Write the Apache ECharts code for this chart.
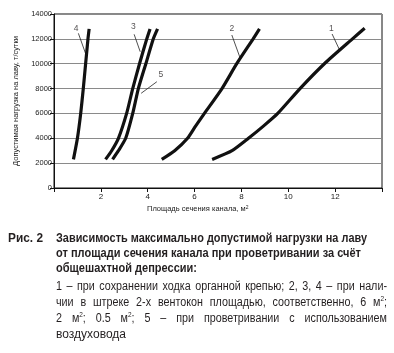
<!DOCTYPE html>
<html>
<head>
<meta charset="utf-8">
<script src="https://cdn.jsdelivr.net/npm/echarts@6/dist/echarts.min.js"></script>
<style>
  html, body { margin: 0; padding: 0; background: #fff; }
  #wrap { position: relative; width: 394px; height: 353px; overflow: hidden; }
  #echart_load { position: absolute; left: 0; top: 0; width: 394px; height: 353px; }
  .ln { position: absolute; display: inline-block; white-space: nowrap; transform-origin: 0 50%;
        font-family: "Liberation Sans", Arial, sans-serif; color: #231f20; line-height: 15px; }
  .b { font-weight: bold; font-size: 12.5px; }
  .r { font-size: 12.5px; text-align: justify; text-align-last: justify; }
  sup { font-size: 7.5px; line-height: 0; vertical-align: 5px; }
</style>
</head>
<body>
<div id="wrap">
  <div id="echart_load"></div>
  <span class="ln b" data-w="35" style="left:8px;top:231px">Рис. 2</span>
  <span class="ln b" data-w="311" style="left:56px;top:231px">Зависимость максимально допустимой нагрузки на лаву</span>
  <span class="ln b" data-w="305" style="left:56px;top:246px">от площади сечения канала при проветривании за счёт</span>
  <span class="ln b" data-w="141" style="left:56px;top:261px">общешахтной депрессии:</span>
  <span class="ln r" data-w="331" data-j="1" style="left:56px;top:279px">1 – при сохранении ходка органной крепью; 2, 3, 4 – при нали-</span>
  <span class="ln r" data-w="331" data-j="1" style="left:56px;top:295px">чии в штреке 2-х вентокон площадью, соответственно, 6 м<sup>2</sup>;</span>
  <span class="ln r" data-w="331" data-j="1" style="left:56px;top:311px">2 м<sup>2</sup>; 0.5 м<sup>2</sup>; 5 – при проветривании с использованием</span>
  <span class="ln r" data-w="70" style="left:56px;top:327px">воздуховода</span>
</div>
<script>
// кривые: [площадь сечения, м2 ; допустимая нагрузка, т/сутки]
const curve1 = [[6.75, 2300], [7.6, 3000], [8.3, 4000], [8.95, 5000], [9.55, 6000], [10.5, 8000], [11.54, 10000], [12.74, 12000], [13.26, 12850]];
const curve2 = [[4.6, 2300], [5.15, 3000], [5.7, 4000], [6.05, 5000], [6.42, 6000], [7.17, 8000], [7.8, 10000], [8.5, 12000], [8.77, 12800]];
const curve3 = [[2.2, 2300], [2.46, 3000], [2.75, 4000], [3.1, 6000], [3.36, 8000], [3.65, 10000], [3.96, 12000], [4.1, 12800]];
const curve4 = [[0.83, 2300], [1.0, 4000], [1.14, 6000], [1.25, 8000], [1.35, 10000], [1.45, 12000], [1.5, 12800]];
const curve5 = [[2.5, 2300], [2.75, 3000], [3.06, 4000], [3.36, 6000], [3.6, 8000], [3.92, 10000], [4.24, 12000], [4.42, 12800]];

// номера кривых и выноски к ним
const curveNames = ['1', '2', '3', '4', '5'];
const labelAt = [[11.84, 12850], [7.59, 12790], [3.39, 12977], [0.94, 12790], [4.56, 9090]];
const leaders = [
    [[11.87, 12390], [12.19, 11100]],
    [[7.59, 12309], [7.95, 10434]],
    [[3.42, 12365], [3.68, 10965]],
    [[1.04, 12446], [1.37, 10700]],
    [[4.39, 8552], [3.72, 7619]]
];

const xTicks = [2, 4, 6, 8, 10, 12];

const font = '"Liberation Sans", Arial, sans-serif';

// подгонка строк подписи по ширине
document.querySelectorAll('.ln').forEach(el => {
    let target = +el.dataset.w;
    let w = el.getBoundingClientRect().width;
    let k = target / w;
    if (el.dataset.j) {
        k = Math.min(k, 0.86);
        el.style.width = (target / k) + 'px';
    }
    el.style.transform = 'scaleX(' + k + ')';
});

var myChart = echarts.init(document.getElementById('echart_load'));

let curves = [curve1, curve2, curve3, curve4, curve5];
let series = curves.map((c, i) => ({
    name: curveNames[i],
    type: 'line',
    data: c,
    smooth: 0.2,
    showSymbol: false,
    silent: true,
    lineStyle: { color: '#111', width: 3.2 },
    z: 3
}));

leaders.forEach(l => {
    series.push({
        type: 'line',
        data: l,
        showSymbol: false,
        silent: true,
        lineStyle: { color: '#222', width: 0.8 },
        z: 2
    });
});

series.push({
    type: 'scatter',
    symbolSize: 0,
    silent: true,
    data: labelAt.map((p, i) => ({ value: p, name: curveNames[i] })),
    label: {
        show: true,
        position: 'inside',
        formatter: p => p.name,
        color: '#231f20',
        fontFamily: font,
        fontSize: 8.5
    }
});

var option = {
    animation: false,
    grid: {
        left: 54, right: 12, top: 14, bottom: 165,
        show: true, borderColor: '#111', borderWidth: 1
    },
    xAxis: {
        type: 'value',
        min: 0, max: 14, interval: 2,
        axisLine: { show: true, lineStyle: { color: '#111', width: 1 } },
        axisTick: { show: true, length: 4, lineStyle: { color: '#111' } },
        splitLine: { show: false },
        axisLabel: {
            margin: 5,
            color: '#1a1a1a', fontFamily: font, fontSize: 8,
            formatter: v => xTicks.includes(v) ? String(v) : ''
        }
    },
    yAxis: {
        type: 'value',
        min: 0, max: 14000, interval: 2000,
        name: 'Допустимая нагрузка на лаву, т/сутки',
        nameLocation: 'middle',
        nameGap: 28,
        nameTextStyle: { color: '#1a1a1a', fontFamily: font, fontSize: 7.5 },
        axisLine: { show: true, lineStyle: { color: '#111', width: 1 } },
        axisTick: { show: true, length: 4, lineStyle: { color: '#111' } },
        splitLine: { show: true, lineStyle: { color: '#8a8a8a', width: 1 } },
        axisLabel: { margin: 2, color: '#1a1a1a', fontFamily: font, fontSize: 7.5, formatter: v => String(v) }
    },
    graphic: [{
        type: 'text',
        left: 147, top: 205,
        style: {
            rich: { s: { fontSize: 5, verticalAlign: 'top', fontFamily: font, fill: '#1a1a1a' } },
            text: 'Площадь сечения канала, м{s|2}',
            fontFamily: font, fontSize: 7.5, fill: '#1a1a1a'
        }
    }],
    series: series
};

option && myChart.setOption(option);
</script>
</body>
</html>
